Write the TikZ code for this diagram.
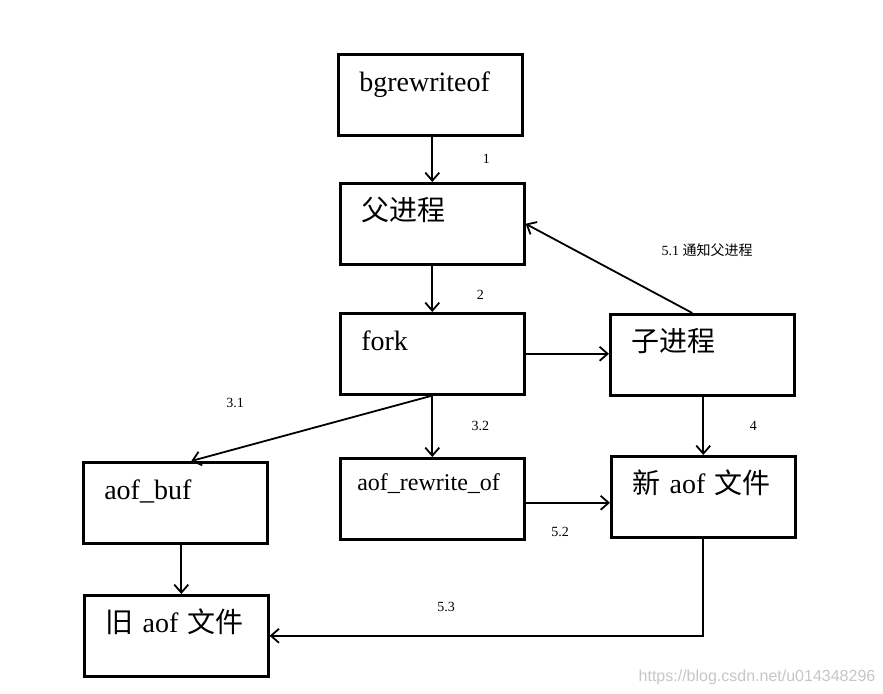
\documentclass[tikz,border=0pt]{standalone}
\usepackage{fontspec}
\setmainfont{Liberation Serif}
\newfontfamily\cjk{Noto Sans CJK SC}
\newfontfamily\wmfont{Liberation Sans}
\usetikzlibrary{arrows.meta}

\begin{document}
\begin{tikzpicture}[x=0.5pt,y=-0.5pt,
    box/.style={draw,line width=1.3pt,anchor=north west,inner xsep=10.5pt,inner ysep=0pt,
      text width=71pt,align=left,text height=18.5pt,text depth=22pt,
      font=\fontsize{14}{16}\selectfont},
    flow/.style={-{Straight Barb[length=4pt,width=7pt]},line width=0.9pt},
    num/.style={font=\fontsize{7}{8}\selectfont}]
    \useasboundingbox (0,0) rectangle (883,694);
    \node[box] (bgrw) at (337,53) {bgrewriteof};
    \node[box] (parent) at (339,182) {\cjk 父进程};
    \node[box] (fork) at (339,312) {fork};
    \node[box] (child) at (609,313) {\cjk 子进程};
    \node[box] (aofbuf) at (82,461) {aof\_buf};
    \node[box,inner xsep=8.5pt,text width=75pt,text height=16pt,text depth=24.5pt,
      font=\fontsize{12}{14}\selectfont] (rewbuf) at (339,457) {aof\_rewrite\_of};
    \node[box] (newaof) at (610,455) {{\cjk 新} aof {\cjk 文件}};
    \node[box] (oldaof) at (83,594) {{\cjk 旧} aof {\cjk 文件}};
    % arrows
    \draw[flow] (parent.north |- bgrw.south) -- (parent.north) node[num,midway,xshift=27pt] {1};
    \draw[flow] (parent.south) -- (fork.north) node[num,midway,xshift=24pt,yshift=-3pt] {2};
    \draw[flow] (fork.east) -- (fork.east -| child.west);
    \draw[flow] ([xshift=-5pt]child.north) -- (parent.east);
    \node[num] (lbl51) at (707,250) {5.1 {\cjk 通知父进程}};
    \draw[flow] (fork.south) -- (rewbuf.north) node[num,midway,xshift=24pt] {3.2};
    \draw[flow] (fork.south) -- ([xshift=8pt]aofbuf.north);
    \node[num] (lbl31) at (235,403) {3.1};
    \draw[flow] (newaof.north |- child.south) -- (newaof.north) node[num,midway,xshift=25pt] {4};
    \draw[flow] ([yshift=-2pt]rewbuf.east) -- ([yshift=-2pt]rewbuf.east -| newaof.west);
    \node[num] (lbl52) at (560,532) {5.2};
    \draw[flow] ([xshift=3pt]aofbuf.south) -- ([xshift=3pt]aofbuf.south |- oldaof.north);
    \draw[flow] (newaof.south) |- (oldaof.east);
    \node[num] (lbl53) at (446,607) {5.3};
    \node[font=\wmfont\fontsize{8}{9}\selectfont,text=gray!45] (wm) at (757,677) {https://blog.csdn.net/u014348296};
\end{tikzpicture}
\end{document}
